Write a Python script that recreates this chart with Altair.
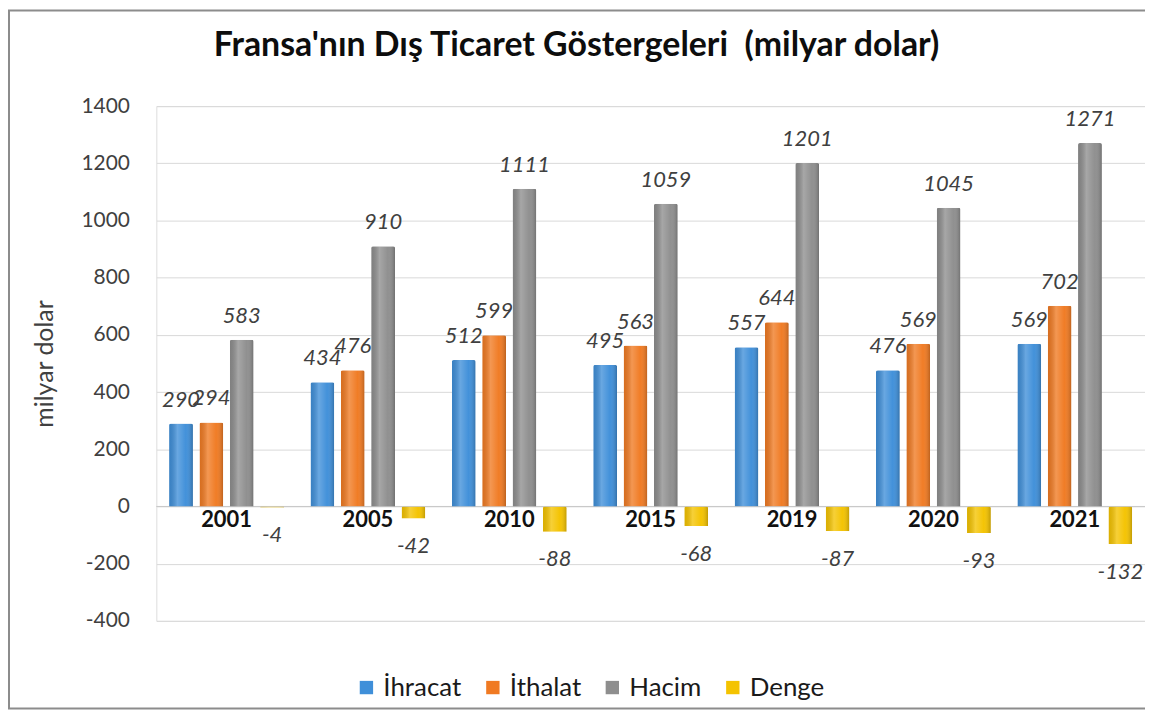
import altair as alt
import pandas as pd

years = ["2001", "2005", "2010", "2015", "2019", "2020", "2021"]
ihracat = [290, 434, 512, 495, 557, 476, 569]
ithalat = [294, 476, 599, 563, 644, 569, 702]
hacim = [583, 910, 1111, 1059, 1201, 1045, 1271]
denge = [-4, -42, -88, -68, -87, -93, -132]
series = ["İhracat", "İthalat", "Hacim", "Denge"]
colors = ["#3F8FD9", "#F07A22", "#8E8E8E", "#F4C300"]
y_ticks = [-400, -200, 0, 200, 400, 600, 800, 1000, 1200, 1400]
title_text = "Fransa'nın Dış Ticaret Göstergeleri \u00a0(milyar dolar)"

rows = []
for name, vals in zip(series, [ihracat, ithalat, hacim, denge]):
    for yr, v in zip(years, vals):
        rows.append({"Yıl": yr, "Seri": name, "Değer": v, "Etiket": str(v)})
df = pd.DataFrame(rows)
cat_df = pd.DataFrame({"Yıl": years, "zero": [0] * len(years)})

FONT = "Lato"
W, H = 993, 517

x_enc = alt.X("Yıl:N", sort=years,
              scale=alt.Scale(paddingInner=0.187, paddingOuter=0.09),
              axis=alt.Axis(labels=False, ticks=False, domain=False, title=None, grid=False))
xo_enc = alt.XOffset("Seri:N", sort=series,
                     scale=alt.Scale(domain=series, paddingInner=0.213, paddingOuter=0))
y_scale = alt.Scale(domain=[-400, 1400], nice=False)

base = alt.Chart(df)

frame = alt.Chart(alt.Data(values=[{"a": 1}])).mark_rect(
    fillOpacity=0, stroke="#8C8C8C", strokeWidth=2
).encode(x=alt.value(-148), x2=alt.value(W + 8), y=alt.value(-96), y2=alt.value(605))

title = alt.Chart(alt.Data(values=[{"t": title_text}])).mark_text(
    font=FONT, fontSize=34, fontWeight="bold", color="#0d0d0d",
    align="center", baseline="middle"
).encode(x=alt.value(422), y=alt.value(-60), text="t:N")

bars = base.mark_bar(cornerRadiusTopLeft=2, cornerRadiusTopRight=2).encode(
    x=x_enc,
    xOffset=xo_enc,
    y=alt.Y("Değer:Q", scale=y_scale,
            axis=alt.Axis(values=y_ticks, title="milyar dolar", grid=True,
                          gridColor="#D9D9D9", gridWidth=1, domain=False, ticks=False,
                          labelExpr="'' + datum.value",
                          labelFontSize=21, labelFont=FONT, labelColor="#404040",
                          labelPadding=27, titleFontSize=25, titleFont=FONT,
                          titleFontWeight="normal", titleColor="#404040",
                          titlePadding=24)),
    color=alt.Color("Seri:N", sort=series,
                    scale=alt.Scale(domain=series, range=colors),
                    legend=alt.Legend(title=None, orient="none", direction="horizontal",
                                      legendX=198, legendY=571, symbolType="square",
                                      symbolSize=180, symbolStrokeWidth=0,
                                      labelFontSize=26, labelFont=FONT,
                                      labelColor="#1a1a1a", columnPadding=18,
                                      labelOffset=4)),
)

shade = base.mark_bar(
    cornerRadiusTopLeft=2, cornerRadiusTopRight=2,
    fill=alt.Gradient(gradient="linear", x1=0, x2=1, y1=0, y2=0, stops=[
        alt.GradientStop(offset=0, color="rgba(0,0,0,0.10)"),
        alt.GradientStop(offset=0.35, color="rgba(255,255,255,0.22)"),
        alt.GradientStop(offset=0.7, color="rgba(255,255,255,0.02)"),
        alt.GradientStop(offset=1, color="rgba(0,0,0,0.22)"),
    ])
).encode(x=x_enc, xOffset=xo_enc, y=alt.Y("Değer:Q", scale=y_scale))

zero_rule = alt.Chart(alt.Data(values=[{"z": 0}])).mark_rule(
    color="#C8C8C8", strokeWidth=1
).encode(y=alt.Y("z:Q", scale=y_scale))

pos_labels = base.transform_filter("datum['Değer'] >= 0").mark_text(
    font=FONT, fontSize=22, fontStyle="italic", color="#404040",
    baseline="middle", dy=-24
).encode(x=x_enc, xOffset=xo_enc, y=alt.Y("Değer:Q", scale=y_scale),
         text=alt.Text("Etiket:N"))

neg_labels = base.transform_filter("datum['Değer'] < 0").mark_text(
    font=FONT, fontSize=22, fontStyle="italic", color="#404040",
    baseline="middle", dy=28
).encode(x=x_enc, xOffset=xo_enc, y=alt.Y("Değer:Q", scale=y_scale),
         text=alt.Text("Etiket:N"))

cat_labels = alt.Chart(cat_df).mark_text(
    font=FONT, fontSize=22, fontWeight="bold", color="#111111",
    baseline="middle", dy=14
).encode(x=x_enc, y=alt.Y("zero:Q", scale=y_scale), text="Yıl:N")

chart = alt.layer(frame, title, zero_rule, bars, shade, pos_labels, neg_labels, cat_labels).properties(
    width=W, height=H,
    autosize=alt.AutoSizeParams(type="none"),
    padding={"left": 149, "top": 97, "right": 0, "bottom": 88},
).configure_view(stroke=None).configure(background="white")

chart.save("out.html", embed_options={"renderer": "svg", "actions": False})
